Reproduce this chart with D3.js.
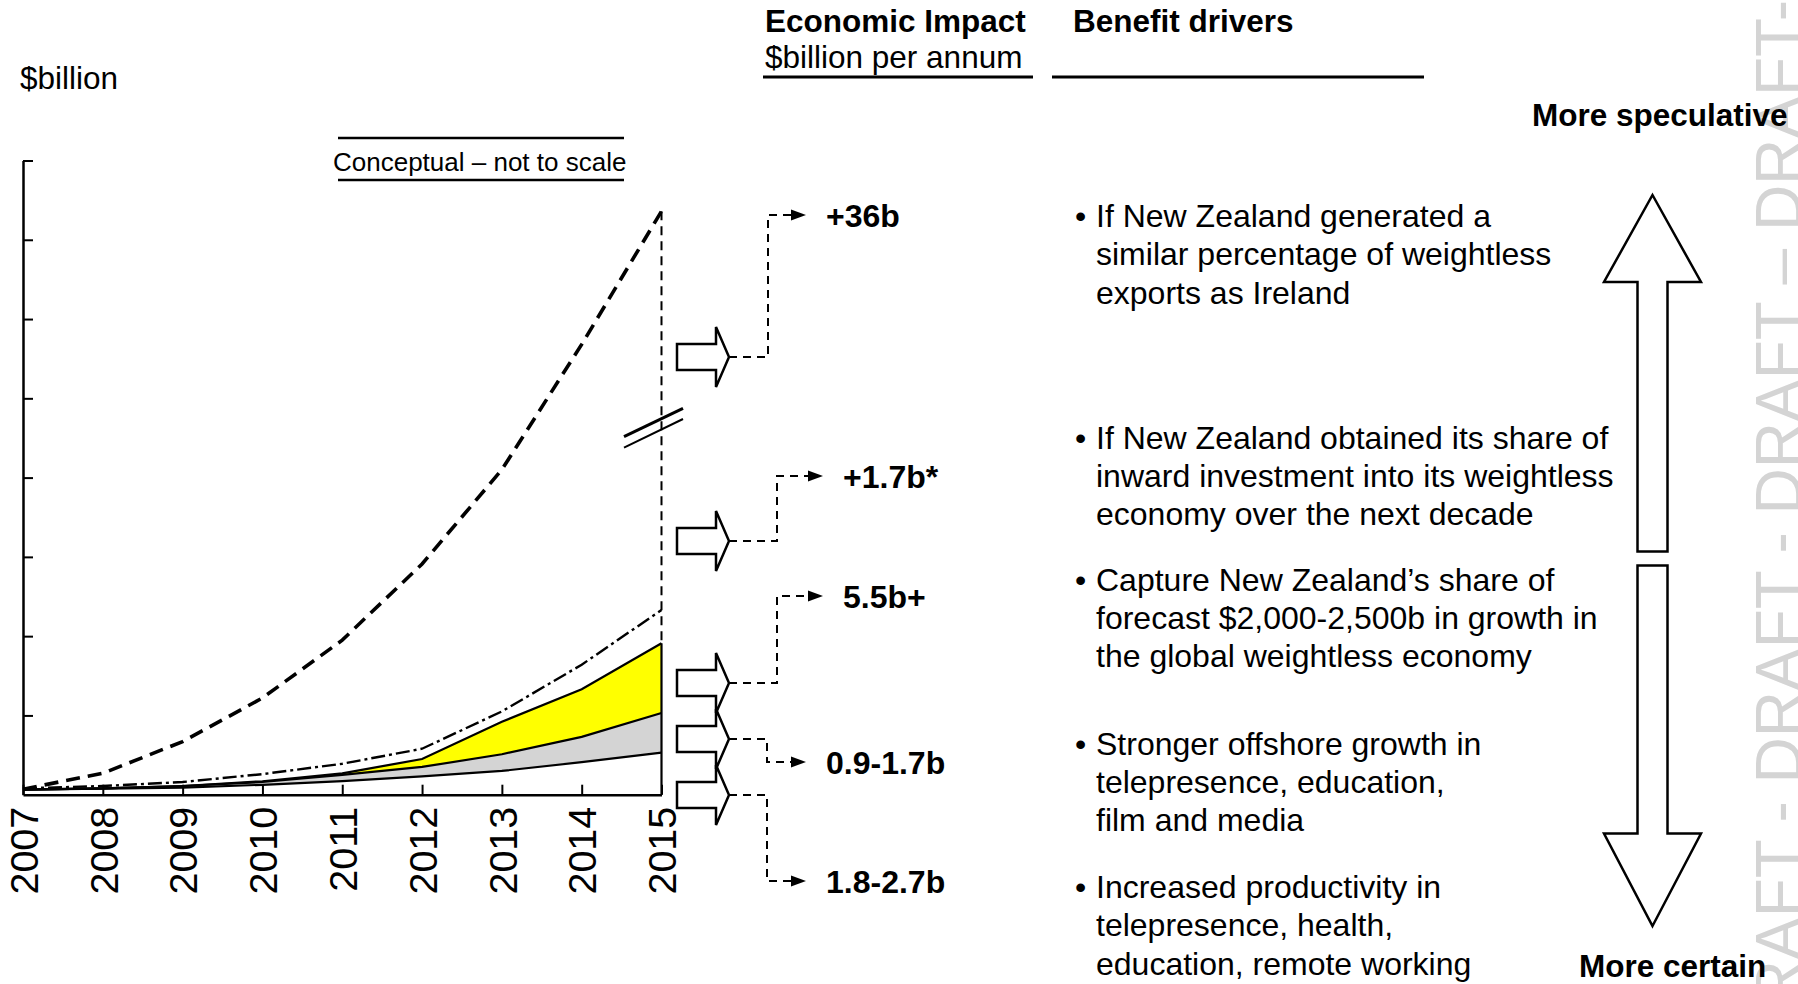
<!DOCTYPE html>
<html>
<head>
<meta charset="utf-8">
<script src="https://cdn.jsdelivr.net/npm/d3@7"></script>
<style>
  html, body { margin: 0; padding: 0; background: #ffffff; }
  svg { display: block; font-family: "Liberation Sans", Arial, sans-serif; }
</style>
</head>
<body>
<svg id="chart" width="1798" height="984"></svg>
<script>
// ---- Data (conceptual, in axis units) ----
const years = [2007, 2008, 2009, 2010, 2011, 2012, 2013, 2014, 2015];
const productivityTop = [0.065, 0.076, 0.09, 0.125, 0.17, 0.23, 0.30, 0.41, 0.53];
const offshoreTop     = [0.065, 0.08, 0.11, 0.16, 0.25, 0.35, 0.51, 0.73, 1.03];
const globalShareTop  = [0.065, 0.08, 0.11, 0.17, 0.27, 0.45, 0.92, 1.33, 1.91];
const investmentLine  = [0.08, 0.11, 0.16, 0.26, 0.39, 0.58, 1.05, 1.64, 2.33];
const irelandLine     = [0.07, 0.27, 0.67, 1.22, 1.95, 2.91, 4.10, 5.68, 7.36];
const yTicks = [1, 2, 3, 4, 5, 6, 7, 8];

const impactLabels = ["+36b", "+1.7b*", "5.5b+", "0.9-1.7b", "1.8-2.7b"];
const driverTexts = [
  ["If New Zealand generated a", "similar percentage of weightless", "exports as Ireland"],
  ["If New Zealand obtained its share of", "inward investment into its weightless", "economy over the next decade"],
  ["Capture New Zealand\u2019s share of", "forecast $2,000-2,500b in growth in", "the global weightless economy"],
  ["Stronger offshore growth in", "telepresence, education,", "film and media"],
  ["Increased productivity in", "telepresence, health,", "education, remote working"]
];

// ---- Layout ----
const svg = d3.select("#chart");
const W = 1798, H = 984;
svg.append("rect").attr("width", W).attr("height", H).attr("fill", "#fff");

const x = d3.scaleLinear().domain([2007, 2015]).range([23, 661.5]);
const y = d3.scaleLinear().domain([0, 8]).range([794.7, 160.5]);

const rows = years.map((yr, i) => ({
  year: yr, p: productivityTop[i], o: offshoreTop[i], g: globalShareTop[i],
  inv: investmentLine[i], ire: irelandLine[i]
}));

// watermark along the right edge
svg.append("text")
  .attr("transform", "translate(1801,0) rotate(-90)")
  .attr("text-anchor", "end")
  .attr("font-size", 64)
  .attr("fill", "#d4d4d4")
  .text("DRAFT - DRAFT - DRAFT \u2013 DRAFT-");

// ---- Stacked areas ----
const g = svg.append("g");
const areaWhite = d3.area().x(d => x(d.year)).y0(y(0)).y1(d => y(d.p));
const areaGrey = d3.area().x(d => x(d.year)).y0(d => y(d.p)).y1(d => y(d.o));
const areaYellow = d3.area().x(d => x(d.year)).y0(d => y(d.o)).y1(d => y(d.g));

g.append("path").datum(rows).attr("d", areaWhite).attr("fill", "#ffffff");
g.append("path").datum(rows).attr("d", areaGrey).attr("fill", "#d4d4d4");
g.append("path").datum(rows).attr("d", areaYellow).attr("fill", "#ffff00");

const lineOf = key => d3.line().x(d => x(d.year)).y(d => y(d[key]));
["p", "o", "g"].forEach(k => {
  g.append("path").datum(rows).attr("d", lineOf(k))
    .attr("fill", "none").attr("stroke", "#000").attr("stroke-width", 2.2);
});
// right edge of the stack
const last = rows[rows.length - 1];
g.append("line")
  .attr("x1", x(last.year)).attr("x2", x(last.year))
  .attr("y1", y(0)).attr("y2", y(last.g))
  .attr("stroke", "#000").attr("stroke-width", 2.2);

// investment scenario (dash-dot)
g.append("path").datum(rows).attr("d", lineOf("inv"))
  .attr("fill", "none").attr("stroke", "#000").attr("stroke-width", 2.4)
  .attr("stroke-dasharray", "14,4,3,4");

// Ireland scenario (bold dashed)
g.append("path").datum(rows).attr("d", lineOf("ire"))
  .attr("fill", "none").attr("stroke", "#000").attr("stroke-width", 3.6)
  .attr("stroke-dasharray", "14,8");

// vertical dashed drop at the final year
g.append("line")
  .attr("x1", x(last.year)).attr("x2", x(last.year))
  .attr("y1", y(last.ire)).attr("y2", y(last.g))
  .attr("stroke", "#000").attr("stroke-width", 2)
  .attr("stroke-dasharray", "9,6");

// axis break marks
const bx = x(last.year), by = 428;
g.append("line").attr("x1", bx - 37.5).attr("y1", by + 8.7).attr("x2", bx + 21.5).attr("y2", by - 19.7)
  .attr("stroke", "#000").attr("stroke-width", 3);
g.append("line").attr("x1", bx - 37.5).attr("y1", by + 19.7).attr("x2", bx + 21.5).attr("y2", by - 9)
  .attr("stroke", "#000").attr("stroke-width", 2);

// ---- Axes ----
const yAxis = d3.axisLeft(y).tickValues(yTicks).tickSizeInner(-10).tickSizeOuter(0).tickFormat("");
const yg = svg.append("g").attr("transform", `translate(${x(2007)},0)`).call(yAxis);
yg.select(".domain").attr("stroke-width", 2.5);
yg.selectAll(".tick line").attr("stroke-width", 2);

const xAxis = d3.axisBottom(x).tickValues(years).tickSizeInner(-10).tickSizeOuter(0).tickFormat(d3.format("d"));
const xg = svg.append("g").attr("transform", `translate(0,${y(0)})`).call(xAxis);
xg.select(".domain").attr("stroke-width", 2.5);
xg.selectAll(".tick line").attr("stroke-width", 2);
xg.selectAll(".tick text")
  .attr("transform", "rotate(-90)")
  .attr("x", -12).attr("y", 0).attr("dy", "0.36em")
  .attr("text-anchor", "end")
  .attr("font-size", 39.5)
  .attr("font-family", "'Liberation Sans', Arial, sans-serif")
  .attr("fill", "#000");

// ---- Chart titles ----
svg.append("text").attr("x", 20).attr("y", 89).attr("font-size", 31.5).text("$billion");

svg.append("text").attr("x", 333).attr("y", 171).attr("font-size", 26).text("Conceptual \u2013 not to scale");
[138, 180].forEach(yy => svg.append("line").attr("x1", 338).attr("x2", 624).attr("y1", yy).attr("y2", yy)
  .attr("stroke", "#000").attr("stroke-width", 2.5));

svg.append("text").attr("x", 765).attr("y", 32).attr("font-size", 31.5).attr("font-weight", "bold").text("Economic Impact");
svg.append("text").attr("x", 765).attr("y", 68).attr("font-size", 31.5).text("$billion per annum");
svg.append("text").attr("x", 1073).attr("y", 32).attr("font-size", 31.5).attr("font-weight", "bold").text("Benefit drivers");
[[763, 1033], [1052, 1424]].forEach(([a, b]) => svg.append("line")
  .attr("x1", a).attr("x2", b).attr("y1", 77).attr("y2", 77).attr("stroke", "#000").attr("stroke-width", 3));

// ---- Block arrows and impact connectors ----
const arrowY = [357, 541, 683, 739, 795];
const connector = [
  { turnX: 768, toY: 215, tipX: 806, labelX: 826 },
  { turnX: 777, toY: 476, tipX: 823, labelX: 843 },
  { turnX: 777, toY: 596, tipX: 823, labelX: 843 },
  { turnX: 767, toY: 762, tipX: 806, labelX: 826 },
  { turnX: 767, toY: 881, tipX: 806, labelX: 826 }
];
const ax0 = 677, axh = 716, axt = 729, bodyH = 13, headH = 30;
const ann = svg.append("g");
impactLabels.forEach((lab, i) => {
  const cy = arrowY[i], c = connector[i];
  ann.append("path")
    .attr("d", `M${ax0},${cy - bodyH}H${axh}V${cy - headH}L${axt},${cy}L${axh},${cy + headH}V${cy + bodyH}H${ax0}Z`)
    .attr("fill", "none").attr("stroke", "#000").attr("stroke-width", 2.5).attr("stroke-linejoin", "miter");
  ann.append("path")
    .attr("d", `M${axt},${cy}H${c.turnX}V${c.toY}H${c.tipX - 14}`)
    .attr("fill", "none").attr("stroke", "#000").attr("stroke-width", 2).attr("stroke-dasharray", "8,6");
  ann.append("path")
    .attr("d", `M${c.tipX - 15},${c.toY - 5.5}L${c.tipX},${c.toY}L${c.tipX - 15},${c.toY + 5.5}Z`)
    .attr("fill", "#000");
  ann.append("text").attr("x", c.labelX).attr("y", c.toY + 11.5)
    .attr("font-size", 32).attr("font-weight", "bold").text(lab);
});

// ---- Benefit drivers ----
const firstBaseline = [227, 448.5, 590.5, 754.5, 898];
driverTexts.forEach((lines, i) => {
  svg.append("text").attr("x", 1075).attr("y", firstBaseline[i]).attr("font-size", 32).text("\u2022");
  const t = svg.append("text").attr("x", 1096).attr("y", firstBaseline[i]).attr("font-size", 32);
  lines.forEach((ln, j) => t.append("tspan").attr("x", 1096).attr("dy", j === 0 ? 0 : 38.4).text(ln));
});

// ---- Certainty scale ----
const cx = 1652.5, shaftHalf = 15, headHalf = 48.5;
svg.append("path")
  .attr("d", `M${cx},195L${cx + headHalf},282H${cx + shaftHalf}V551.5H${cx - shaftHalf}V282H${cx - headHalf}Z`)
  .attr("fill", "#fff").attr("stroke", "#000").attr("stroke-width", 2.5);
svg.append("path")
  .attr("d", `M${cx},926L${cx + headHalf},833.5H${cx + shaftHalf}V565.5H${cx - shaftHalf}V833.5H${cx - headHalf}Z`)
  .attr("fill", "#fff").attr("stroke", "#000").attr("stroke-width", 2.5);
svg.append("text").attr("x", 1532).attr("y", 126).attr("font-size", 31.5).attr("font-weight", "bold").text("More speculative");
svg.append("text").attr("x", 1579).attr("y", 977).attr("font-size", 31.5).attr("font-weight", "bold").text("More certain");
</script>
</body>
</html>
